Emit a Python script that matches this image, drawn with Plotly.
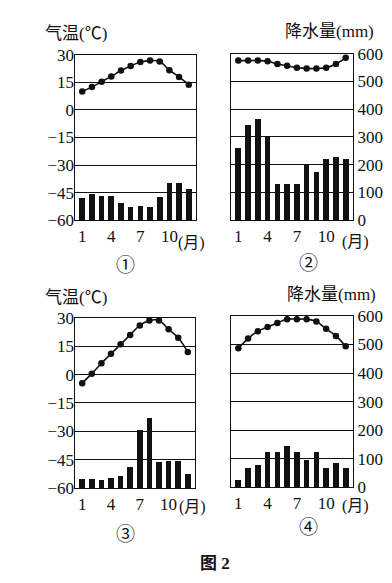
import plotly.graph_objects as go

months = list(range(1, 13))
month_ticks = [1, 4, 7, 10]

# Temperature (°C)
temp1 = [10, 12.5, 15.3, 18.2, 21.4, 23.9, 26, 26.8, 26.3, 21.6, 17.9, 13.7]
temp2 = [26.3, 26.3, 26.3, 26, 24.5, 23.5, 22.5, 22, 22, 22.5, 24.5, 27.8]
temp3 = [-4.5, 0.5, 6, 11, 16, 21, 26, 28.6, 28.6, 24, 19.5, 12]
temp4 = [13, 18.1, 22, 24.2, 26.3, 28.3, 28.3, 28.3, 27.1, 23.2, 19.5, 14]

# Precipitation (mm)
prec1 = [82, 96, 88, 88, 64, 47, 51, 47, 84, 137, 134, 113]
prec2 = [260, 345, 365, 300, 130, 130, 130, 200, 175, 220, 227, 220]
prec3 = [33, 33, 28, 36, 44, 76, 206, 249, 93, 97, 97, 51]
prec4 = [26, 66, 77, 122, 122, 143, 122, 97, 122, 69, 86, 66]

temp_ticks = [-60, -45, -30, -15, 0, 15, 30]
prec_ticks = [0, 100, 200, 300, 400, 500, 600]

W, H = 392, 583
SERIF = "'Liberation Serif', 'Times New Roman', 'Noto Sans CJK SC', serif"

def px(x):
    return x / W

def py(y):
    return 1 - y / H

panels = [
    # (temp, prec, x0, x1, ytop, ybot, show temp axis)
    (temp1, prec1, 67, 188, 39, 210, True),
    (temp2, prec2, 223, 345, 38, 210, False),
    (temp3, prec3, 67, 187, 311, 487, True),
    (temp4, prec4, 223, 345, 309, 486, False),
]

fig = go.Figure()
layout = dict(
    width=W, height=H,
    margin=dict(l=0, r=0, t=0, b=0),
    paper_bgcolor="white", plot_bgcolor="white",
    showlegend=False,
    bargap=0,
)

for i, (t, p, x0, x1, yt, yb, show_temp) in enumerate(panels):
    n = i + 1
    xa = "x" if n == 1 else f"x{n}"
    ya_p = "y" if n == 1 else f"y{2*n-1}"
    ya_t = f"y{2*n}"
    xkey = "xaxis" if n == 1 else f"xaxis{n}"
    pkey = "yaxis" if n == 1 else f"yaxis{2*n-1}"
    tkey = f"yaxis{2*n}"

    fig.add_trace(go.Bar(x=months, y=p, xaxis=xa, yaxis=ya_p,
                         marker=dict(color="#111111", line=dict(width=0)),
                         width=0.58))
    fig.add_trace(go.Scatter(x=months, y=t, xaxis=xa, yaxis=ya_t,
                             mode="lines+markers",
                             line=dict(color="#111111", width=1.6, shape="spline"),
                             marker=dict(color="#111111", size=6.5)))

    layout[xkey] = dict(
        domain=[px(x0), px(x1)], range=[0.25, 12.75], anchor=ya_p,
        tickvals=month_ticks, ticks="", showgrid=False, zeroline=False,
        showline=True, mirror=True, linecolor="#111111", linewidth=1.3,
        tickfont=dict(family=SERIF, size=17, color="#111111"),
    )
    layout[pkey] = dict(
        domain=[py(yb), py(yt)], range=[0, 600], anchor=xa,
        tickvals=prec_ticks, side="right", ticks="",
        showticklabels=not show_temp,
        showgrid=True, gridcolor="#111111", gridwidth=1.1, zeroline=False,
        showline=True, mirror=True, linecolor="#111111", linewidth=1.3,
        tickfont=dict(family=SERIF, size=17, color="#111111"),
    )
    layout[tkey] = dict(
        range=[-60, 30], overlaying=ya_p, anchor=xa, side="left",
        tickvals=temp_ticks, ticks="", showticklabels=show_temp,
        showgrid=False, zeroline=False, showline=False,
        tickfont=dict(family=SERIF, size=17, color="#111111"),
    )

fig.update_layout(**layout)

def ann(text, x, y, size=16, bold=False):
    if bold:
        text = f"<b>{text}</b>"
    fig.add_annotation(text=text, x=px(x), y=py(y), xref="paper", yref="paper",
                       showarrow=False, xanchor="center", yanchor="middle",
                       font=dict(family=SERIF, size=size, color="#111111"))

ann("气温(℃)", 68, 17, 17)
ann("气温(℃)", 68, 290, 17)
ann("降水量(mm)", 321, 15, 17)
ann("降水量(mm)", 323, 287, 17)
ann("(月)", 183, 234, 16)
ann("(月)", 347, 233, 16)
ann("(月)", 184, 506, 16)
ann("(月)", 347, 505, 16)
ann("①", 117, 257, 19)
ann("②", 300, 255, 19)
ann("③", 117, 535, 19)
ann("④", 300, 528, 19)
ann("图 2", 207, 565, 17, bold=True)

fig.write_html("out.html")
